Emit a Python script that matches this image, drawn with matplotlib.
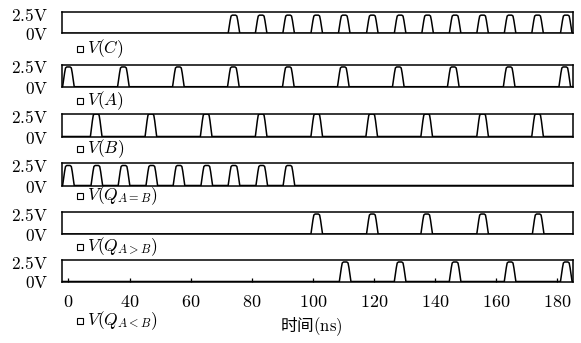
import numpy as np
import matplotlib.pyplot as plt
from matplotlib.lines import Line2D

plt.rcParams['mathtext.fontset'] = 'cm'
plt.rcParams['font.family'] = ['Noto Sans CJK SC', 'DejaVu Sans']

# pulse centres (ns), one list per trace
pulses_C = [74.2, 83.1, 92.1, 101.3, 110.3, 119.5, 128.6, 137.6, 146.6, 155.6, 164.6, 173.6, 183.0]
pulses_A = [20.0, 38.0, 56.0, 74.0, 92.0, 110.0, 128.0, 146.0, 164.3, 182.5]
pulses_B = [29.1, 47.0, 65.1, 83.1, 101.3, 119.3, 137.3, 155.6, 173.6]
pulses_eq = [20.0, 29.3, 38.2, 47.3, 56.2, 65.3, 74.2, 83.3, 92.2]
pulses_gt = [101.3, 119.5, 137.3, 155.6, 173.8]
pulses_lt = [110.6, 128.6, 146.6, 164.6, 183.0]
peaks = [2.3, 2.4, 2.7, 2.4, 2.45, 2.45]

labels = [r'$V(C)$', r'$V(A)$', r'$V(B)$',
          r'$V(Q_{A=B})$', r'$V(Q_{A>B})$', r'$V(Q_{A<B})$']
tick_pos = [20, 40, 60, 80, 100, 120, 140, 160, 180]
tick_lab = ['0', '40', '60', '80', '100', '120', '140', '160', '180']

signals = [pulses_C, pulses_A, pulses_B, pulses_eq, pulses_gt, pulses_lt]

W, H = 581, 343
tmin, tmax = 17.9, 185.2
# pulse shape (offset ns, fraction of peak)
shape_dt = [-1.9, -1.25, -0.95, -0.55, 0.55, 0.95, 1.25, 1.9]
shape_lv = [0, 0.7, 0.95, 1, 1, 0.95, 0.7, 0]


def wave(centres, peak):
    t = [tmin]
    v = [0]
    for c in centres:
        for dt, lv in zip(shape_dt, shape_lv):
            t.append(c + dt)
            v.append(lv * peak)
    t.append(tmax)
    v.append(0)
    return t, v


fig = plt.figure(figsize=(W / 100, H / 100), dpi=100)

# axes boxes in pixels (top, bottom)
boxes = [(12, 33.3), (64.5, 86.7), (114, 136.5), (163, 185.5), (212, 234), (260, 281.5)]
leg_y = [49, 100.5, 149, 196, 247, 321]
left, right = 62, 573

for i, sig in enumerate(signals):
    top, bot = boxes[i]
    ax = fig.add_axes([left / W, 1 - bot / H, (right - left) / W, (bot - top) / H])
    t, v = wave(sig, peaks[i])
    ax.plot(t, v, color='black', lw=1.1)
    ax.set_xlim(tmin, tmax)
    ax.set_ylim(0, 2.7)
    ax.set_yticks([0, 2.5])
    ax.set_yticklabels([r'$\mathrm{0V}$', r'$\mathrm{2.5V}$'])
    ax.tick_params(axis='y', length=0, pad=10, labelsize=12.5)
    for s in ax.spines.values():
        s.set_linewidth(1.1)
    if i == len(signals) - 1:
        ax.set_xticks(tick_pos)
        ax.set_xticklabels(['$%s$' % s for s in tick_lab])
        ax.tick_params(axis='x', direction='in', length=3, width=0.9, pad=8, labelsize=13)
        ax.set_xlabel(r'时间$\mathrm{(ns)}$', fontsize=12, va='center')
        ax.xaxis.set_label_coords((311 - left) / (right - left), (bot - 327) / (bot - top))
    else:
        ax.set_xticks([])

    # legend entry: small open square + label
    fig.add_artist(Line2D([79.5 / W], [1 - leg_y[i] / H], ls='none', marker='s', ms=4.5,
                          mfc='white', mec='black', mew=0.8))
    fig.text(87 / W, 1 - leg_y[i] / H, labels[i], fontsize=12.5, va='center', ha='left')

fig.savefig('out.png', dpi=100)
